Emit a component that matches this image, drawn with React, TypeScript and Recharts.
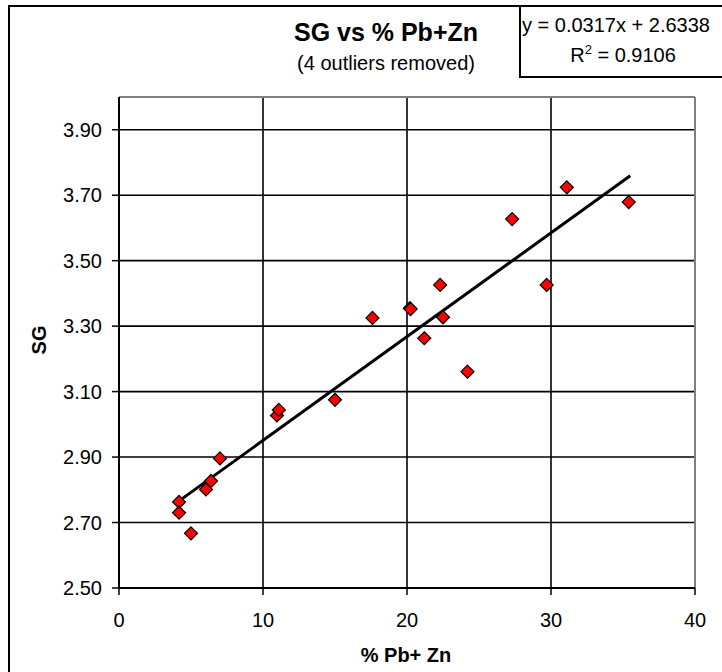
import React from 'react';
import { ScatterChart, Scatter, XAxis, YAxis, CartesianGrid, ReferenceLine } from 'recharts';

const pbZn = [4.17, 4.17, 5.0, 6.04, 6.39, 7.01, 10.97, 11.1, 15.0, 17.6, 20.2, 20.25, 21.2, 22.3, 22.5, 24.2, 27.3, 29.7, 31.1, 35.4];
const sg = [2.763, 2.73, 2.667, 2.801, 2.827, 2.896, 3.027, 3.044, 3.075, 3.325, 3.355, 3.352, 3.263, 3.426, 3.327, 3.161, 3.627, 3.426, 3.724, 3.679];

const xTicks = [0, 10, 20, 30, 40];
const yTicks = [2.5, 2.7, 2.9, 3.1, 3.3, 3.5, 3.7, 3.9];
const xDomain = [0, 40];
const yDomain = [2.5, 4.0];

const slope = 0.0317;
const intercept = 2.6338;
const trendRange = [4.2, 35.5];

const data = pbZn.map((x, i) => ({ x, y: sg[i] }));
const trendSegment = trendRange.map((x) => ({ x, y: slope * x + intercept }));

const FONT = '"Liberation Sans", Arial, sans-serif';

const Diamond = (props: any) => {
  const { cx, cy } = props;
  if (cx == null || cy == null) return null;
  const h = 6.5;
  return (
    <polygon
      points={`${cx},${cy - h} ${cx + h},${cy} ${cx},${cy + h} ${cx - h},${cy}`}
      fill="#FF0000"
      stroke="#000"
      strokeWidth={1.2}
    />
  );
};

export default function App() {
  return (
    <div
      style={{
        position: 'absolute',
        left: 0,
        top: 0,
        width: 722,
        height: 672,
        overflow: 'hidden',
        background: '#fff',
        fontFamily: FONT,
      }}
    >
      <div
        style={{
          position: 'absolute',
          left: 8,
          top: 5,
          width: 760,
          height: 720,
          border: '2px solid #000',
          boxSizing: 'border-box',
        }}
      />
      <ScatterChart
        width={722}
        height={672}
        margin={{ top: 97, right: 27, left: 19, bottom: 44 }}
        style={{ position: 'absolute', left: 0, top: 0 }}
      >
        <CartesianGrid stroke="#000" strokeWidth={1.6} />
        <XAxis
          type="number"
          dataKey="x"
          domain={xDomain}
          ticks={xTicks}
          height={40}
          allowDataOverflow
          stroke="#000"
          strokeWidth={2}
          tickSize={7}
          tickMargin={18}
          tick={{ fill: '#000', fontSize: 20, fontFamily: FONT }}
          tickLine={{ stroke: '#000', strokeWidth: 1.5 }}
        />
        <YAxis
          type="number"
          dataKey="y"
          domain={yDomain}
          ticks={yTicks}
          width={100}
          allowDataOverflow
          stroke="#000"
          strokeWidth={2}
          tickSize={7}
          tickMargin={10}
          tickFormatter={(v: number) => v.toFixed(2)}
          tick={{ fill: '#000', fontSize: 20, fontFamily: FONT }}
          tickLine={{ stroke: '#000', strokeWidth: 1.5 }}
        />
        <ReferenceLine y={yDomain[1]} stroke="#808080" strokeWidth={2} />
        <ReferenceLine x={xDomain[1]} stroke="#808080" strokeWidth={2} />
        <ReferenceLine segment={trendSegment} stroke="#000" strokeWidth={3} />
        <Scatter data={data} shape={Diamond} isAnimationActive={false} />
      </ScatterChart>

      <div
        style={{
          position: 'absolute',
          left: 236,
          width: 300,
          top: 16,
          textAlign: 'center',
          fontSize: 25,
          fontWeight: 'bold',
          lineHeight: '32px',
          color: '#000',
        }}
      >
        SG vs % Pb+Zn
      </div>
      <div
        style={{
          position: 'absolute',
          left: 236,
          width: 300,
          top: 51,
          textAlign: 'center',
          fontSize: 20,
          lineHeight: '24px',
          color: '#000',
        }}
      >
        (4 outliers removed)
      </div>

      <div
        style={{
          position: 'absolute',
          left: 519,
          top: 5,
          width: 240,
          height: 73,
          border: '2px solid #000',
          boxSizing: 'border-box',
          background: '#fff',
        }}
      />
      <div
        style={{
          position: 'absolute',
          left: 522,
          top: 13,
          fontSize: 20,
          lineHeight: '24px',
          whiteSpace: 'nowrap',
          color: '#000',
        }}
      >
        y = 0.0317x + 2.6338
      </div>
      <div
        style={{
          position: 'absolute',
          left: 521,
          width: 204,
          top: 43,
          textAlign: 'center',
          fontSize: 20,
          lineHeight: '24px',
          whiteSpace: 'nowrap',
          color: '#000',
        }}
      >
        R<sup style={{ fontSize: 13, verticalAlign: 'top', lineHeight: '14px' }}>2</sup> = 0.9106
      </div>

      <div
        style={{
          position: 'absolute',
          left: 256,
          width: 300,
          top: 643,
          textAlign: 'center',
          fontSize: 20,
          fontWeight: 'bold',
          lineHeight: '24px',
          color: '#000',
        }}
      >
        % Pb+ Zn
      </div>
      <div
        style={{
          position: 'absolute',
          left: 39,
          top: 340,
          transform: 'translate(-50%, -50%) rotate(-90deg)',
          fontSize: 20,
          fontWeight: 'bold',
          lineHeight: '24px',
          color: '#000',
          whiteSpace: 'nowrap',
        }}
      >
        SG
      </div>
    </div>
  );
}
